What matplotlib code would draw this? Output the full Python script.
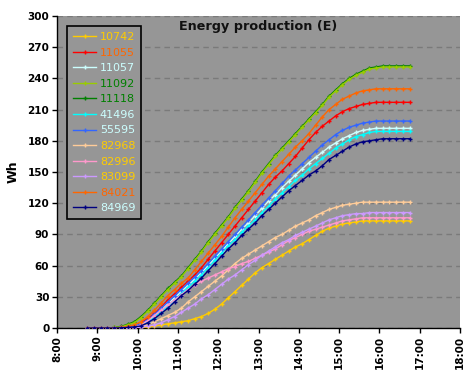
import matplotlib
matplotlib.use("Agg")
import matplotlib.pyplot as plt
from matplotlib.lines import Line2D

# ---- data ----
start_hour = 8.75          # 8:45
step_hour = 1.0 / 6.0      # 10 minutes
n_points = 49

labels = ["10742", "11055", "11057", "11092", "11118", "41496",
          "55595", "82968", "82996", "83099", "84021", "84969"]

s10742 = [0,0,0,0,0,0,0,0,0.5,1,2,3,4,5,6,7,9,11,14,18,23,29,35,41,47,53,58,62,66,70,74,78,81,85,89,93,96,98,100,101,102,103,103,103,103,103,103,103,103]
s11055 = [0,0,0,0,0,0.5,1,2,5,9,14,20,27,33,39,45,51,58,66,74,82,90,98,106,114,122,130,138,145,151,158,165,173,181,188,194,199,204,208,211,213,215,216,217,217,217,217,217,217]
s11057 = [0,0,0,0,0,0.3,1,2,4,7,12,17,23,29,35,41,47,53,60,67,74,81,88,95,101,108,115,122,128,135,141,147,153,159,164,169,174,178,182,185,188,190,191,192,192,192,192,192,192]
s11092 = [0,0,0,0,0.5,1,3,5,10,16,23,30,37,43,49,57,65,73,82,90,98,106,115,123,131,140,149,157,165,172,179,186,193,200,207,214,222,228,234,239,243,246,249,250,251,251,251,251,251]
s11118 = [0,0,0,0,0.5,1.5,3.5,6,11,17,24,31,38,44,50,58,66,74,83,91,99,107,116,124,132,141,150,158,166,173,180,187,194,201,208,215,223,229,235,240,244,247,250,251,252,252,252,252,252]
s41496 = [0,0,0,0,0,0.3,0.8,1.5,3,6,10,15,21,27,33,39,45,51,58,65,72,79,85,92,98,104,111,117,124,130,136,142,147,153,158,163,168,173,177,181,184,186,188,189,189,189,189,189,189]
s55595 = [0,0,0,0,0,0.5,1,2,4,8,13,19,25,31,37,43,49,55,62,69,76,83,90,97,104,111,118,125,132,139,146,152,158,164,170,176,181,186,190,193,195,197,198,199,199,199,199,199,199]
s82968 = [0,0,0,0,0,0,0,0.5,1,3,6,9,12,15,19,25,30,35,40,45,50,56,62,67,71,75,79,83,87,90,94,98,101,104,108,111,114,116,118,119,120,121,121,121,121,121,121,121,121]
s82996 = [0,0,0,0,0,0,0,0.5,3,7,12,17,22,27,32,37,41,45,48,51,54,57,59,62,64,67,70,73,76,80,84,87,90,93,95,97,99,101,103,104,105,106,106,106,106,106,106,106,106]
s83099 = [0,0,0,0,0,0,0,0,0.5,2,3,5,8,11,15,19,23,28,32,37,42,47,51,56,61,65,70,74,78,82,85,89,92,95,98,101,104,106,108,109,110,110,111,111,111,111,111,111,111]
s84021 = [0,0,0,0,0,0.5,1.5,3,6,11,17,24,31,37,43,48,56,64,72,80,88,97,106,114,122,130,138,146,153,160,167,174,180,187,195,203,210,215,220,223,226,228,229,230,230,230,230,230,230]
s84969 = [0,0,0,0,0,0.2,0.5,1,2,5,9,14,19,25,31,36,42,48,55,62,69,76,82,89,95,101,108,114,120,126,132,137,142,147,151,156,162,166,170,174,177,179,180,181,182,182,182,182,182]

series = [s10742, s11055, s11057, s11092, s11118, s41496,
          s55595, s82968, s82996, s83099, s84021, s84969]

line_colors = ["#ffcc00", "#ff0000", "#ccffff", "#99cc00", "#008000", "#00ffff",
               "#3366ff", "#ffcc99", "#ff99cc", "#cc99ff", "#ff6600", "#000080"]
text_colors = ["#ffcc00", "#ff6600", "#ccffff", "#008000", "#008000", "#ccffff",
               "#ccffff", "#ffcc00", "#ffcc00", "#ffcc00", "#ff6600", "#ccffff"]
z_orders = [3, 3, 3, 3, 2.5, 3, 3, 3, 3, 3, 3, 3]

hour_ticks = list(range(8, 19))
hour_labels = [f"{h}:00" for h in hour_ticks]
y_ticks = list(range(0, 301, 30))

times = [start_hour + i * step_hour for i in range(n_points)]

# ---- figure ----
W, H = 471, 381
fig = plt.figure(figsize=(W / 100, H / 100), dpi=100, facecolor="white")
ax = fig.add_axes([57 / W, (H - 328) / H, (460 - 57) / W, (328 - 16) / H])
ax.set_facecolor("#969696")

for s, c, z in zip(series, line_colors, z_orders):
    ax.plot(times, s, color=c, lw=1.0, marker="+", ms=3.2, mew=1.0, zorder=z)

ax.set_xlim(8, 18)
ax.set_ylim(0, 300)
ax.set_xticks(hour_ticks)
ax.set_xticklabels(hour_labels, rotation=90, fontsize=7.5, fontweight="bold")
ax.set_yticks(y_ticks)
ax.set_yticklabels([str(v) for v in y_ticks], fontsize=7.5, fontweight="bold")
ax.tick_params(axis="both", direction="out", length=3.5, width=1, color="black", pad=2)
ax.yaxis.grid(True, color="#7a7a7a", linestyle=(0, (4, 3)), lw=1)
ax.set_axisbelow(True)
for side in ["top", "right"]:
    ax.spines[side].set_visible(False)
for side in ["left", "bottom"]:
    ax.spines[side].set_color("black")
    ax.spines[side].set_linewidth(1)

ax.set_ylabel("Wh", fontsize=9, fontweight="bold", labelpad=6)
ax.text(0.5, 0.965, "Energy production (E)", transform=ax.transAxes,
        ha="center", va="center", fontsize=9.2, fontweight="bold", color="#111111")

handles = [Line2D([], [], color=c, lw=1.0, marker="+", ms=3.2, mew=1.0) for c in line_colors]
leg = ax.legend(handles, labels, loc="upper left",
                bbox_to_anchor=(10 / 403, (328 - 26) / 312), borderaxespad=0,
                fontsize=8, frameon=True, fancybox=False, framealpha=1,
                facecolor="#969696", edgecolor="black",
                handlelength=2.1, handletextpad=0.3, borderpad=0.55, labelspacing=0.5,
                markerscale=1.0)
leg.get_frame().set_linewidth(1.2)
leg.set_zorder(5)
for t, c in zip(leg.get_texts(), text_colors):
    t.set_color(c)

fig.savefig("out.png", dpi=100, facecolor="white")
